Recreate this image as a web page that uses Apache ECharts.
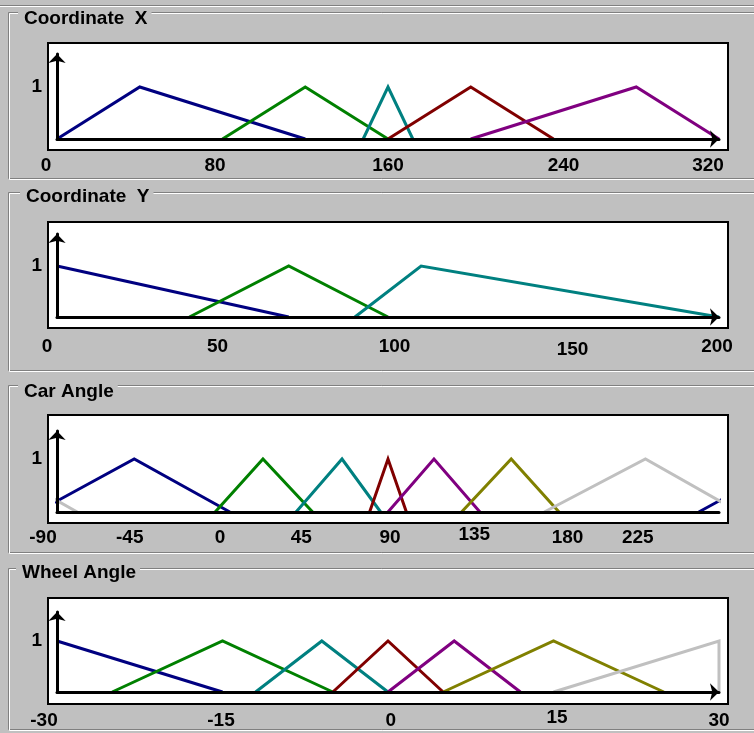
<!DOCTYPE html>
<html><head><meta charset="utf-8">
<script src="https://cdn.jsdelivr.net/npm/echarts@6/dist/echarts.min.js"></script>
<style>html,body{margin:0;padding:0;background:#c0c0c0}#c{width:754px;height:733px}</style>
</head><body><div id="c"></div><script>
// ---------------- data ----------------
const panelTitles = ['Coordinate  X', 'Coordinate  Y', 'Car Angle', 'Wheel Angle'];

const coordXRange = [0, 320];      const coordXStep = 80;
const coordYRange = [0, 200];      const coordYStep = 50;
const carAngleRange = [-90, 270];  const carAngleStep = 45;
const wheelAngleRange = [-30, 30]; const wheelAngleStep = 15;

const coordXTicks = [0, 80, 160, 240, 320];
const coordYTicks = [0, 50, 100, 150, 200];
const carAngleTicks = [-90, -45, 0, 45, 90, 135, 180, 225];
const wheelAngleTicks = [-30, -15, 0, 15, 30];

const coordX_blue   = [[0, 0], [40, 1], [120, 0]];
const coordX_green  = [[80, 0], [120, 1], [160, 0]];
const coordX_teal   = [[148, 0], [160, 1], [172, 0]];
const coordX_maroon = [[160, 0], [200, 1], [240, 0]];
const coordX_purple = [[200, 0], [280, 1], [320, 0]];

const coordY_blue  = [[0, 1], [70, 0]];
const coordY_green = [[40, 0], [70, 1], [100, 0]];
const coordY_teal  = [[90, 0], [110, 1], [200, 0]];

const car_blue     = [[-101, 0], [-48, 1], [4, 0]];
const car_blueWrap = [[259, 0], [312, 1], [364, 0]];
const car_green    = [[-4, 0], [22, 1], [49, 0]];
const car_teal     = [[40, 0], [65, 1], [86, 0]];
const car_maroon   = [[80, 0], [90, 1], [100, 0]];
const car_purple   = [[90, 0], [115, 1], [140, 0]];
const car_olive    = [[130, 0], [157, 1], [183, 0]];
const car_gray     = [[175, 0], [230, 1], [281, 0]];
const car_grayWrap = [[-185, 0], [-130, 1], [-79, 0]];

const wheel_blue   = [[-30, 1], [-15, 0]];
const wheel_green  = [[-25, 0], [-15, 1], [-5, 0]];
const wheel_teal   = [[-12, 0], [-6, 1], [0, 0]];
const wheel_maroon = [[-5, 0], [0, 1], [5, 0]];
const wheel_purple = [[0, 0], [6, 1], [12, 0]];
const wheel_olive  = [[5, 0], [15, 1], [25, 0]];
const wheel_gray   = [[15, 0], [30, 1], [30, 0]];

// ---------------- styles / layout ----------------
const COL = {blue:'#000080', green:'#008000', teal:'#008080', maroon:'#800000', purple:'#800080', olive:'#808000', gray:'#c0c0c0'};
const FONT = "'Liberation Sans', Arial, sans-serif";

const PANELS = [
  {title: panelTitles[0], titleLeft: 18, titleTop: 9, box: [12, 178], plot: [42, 151],
   gridTop: 54, baseline: 139, unit: 52, xArrow: true, clip: false, margin: 17.5,
   range: coordXRange, step: coordXStep, ticks: coordXTicks,
   dx: [-11, -7.5, 0, 10, -11], dy: [0, 0, 0, 0, 0],
   series: [[coordX_blue, COL.blue], [coordX_green, COL.green], [coordX_teal, COL.teal], [coordX_maroon, COL.maroon], [coordX_purple, COL.purple]]},
  {title: panelTitles[1], titleLeft: 20, titleTop: 187, box: [192, 370], plot: [221, 329],
   gridTop: 234, baseline: 317, unit: 51, xArrow: true, clip: false, margin: 20.5,
   range: coordYRange, step: coordYStep, ticks: coordYTicks,
   dx: [-10, -5, 6.5, 19, -2], dy: [0, 0, 0, 3, 0],
   series: [[coordY_blue, COL.blue], [coordY_green, COL.green], [coordY_teal, COL.teal]]},
  {title: panelTitles[2], titleLeft: 18, titleTop: 382.5, box: [385, 552], plot: [414, 524],
   gridTop: 431, baseline: 512, unit: 53, xArrow: false, clip: true, margin: 13.5,
   range: carAngleRange, step: carAngleStep, ticks: carAngleTicks,
   dx: [-14, -10, -2.5, -4, 2, 3.5, 14, 1.5], dy: [3, 3, 3, 3, 3, 0, 3, 3],
   series: [[car_blue, COL.blue], [car_blueWrap, COL.blue], [car_green, COL.green], [car_teal, COL.teal], [car_maroon, COL.maroon],
            [car_purple, COL.purple], [car_olive, COL.olive], [car_gray, COL.gray], [car_grayWrap, COL.gray]]},
  {title: panelTitles[3], titleLeft: 16, titleTop: 563.5, box: [568, 729], plot: [597, 705],
   gridTop: 612, baseline: 692, unit: 51, xArrow: true, clip: false, margin: 16.5,
   range: wheelAngleRange, step: wheelAngleStep, ticks: wheelAngleTicks,
   dx: [-13, -1.5, 2.7, 3.5, 0], dy: [3, 3, 3, 0, 3],
   series: [[wheel_blue, COL.blue], [wheel_green, COL.green], [wheel_teal, COL.teal], [wheel_maroon, COL.maroon],
            [wheel_purple, COL.purple], [wheel_olive, COL.olive], [wheel_gray, COL.gray]]}
];

const labelBase = {fontFamily: FONT, fontSize: 19, fontWeight: 'bold', color: '#000'};

function tickLabel(ticks, dx, dy) {
  const rich = {};
  ticks.forEach((t, i) => {
    const sx = dx[i] || 0, sy = dy[i] || 0;
    rich['t' + i] = Object.assign({}, labelBase, {padding: [sy, sx < 0 ? -2 * sx : 0, 0, sx > 0 ? 2 * sx : 0]});
  });
  return {
    formatter: v => { const i = ticks.indexOf(v); return i < 0 ? '' : '{t' + i + '|' + v + '}'; },
    rich
  };
}

const graphics = [
  {type: 'line', shape: {x1: 0, y1: 5.5, x2: 754, y2: 5.5}, style: {stroke: '#808080', lineWidth: 1}},
  {type: 'line', shape: {x1: 0, y1: 6.5, x2: 754, y2: 6.5}, style: {stroke: '#ffffff', lineWidth: 1}}
];
PANELS.forEach(p => {
  const [t, b] = p.box;
  graphics.push({type: 'rect', shape: {x: 8.5, y: t + 0.5, width: 800, height: b - t}, style: {fill: 'none', stroke: '#808080', lineWidth: 1}});
  graphics.push({type: 'rect', shape: {x: 9.5, y: t + 1.5, width: 800, height: b - t}, style: {fill: 'none', stroke: '#ffffff', lineWidth: 1}});
  graphics.push({type: 'rect', shape: {x: 48, y: p.plot[0] + 1, width: 680, height: p.plot[1] - p.plot[0] - 2}, style: {fill: '#ffffff', stroke: '#000000', lineWidth: 2}});
});

const option = {
  backgroundColor: '#c0c0c0',
  animation: false,
  graphic: graphics,
  title: PANELS.map(p => ({
    text: p.title, left: p.titleLeft, top: p.titleTop, padding: [0, 4, 0, 6], backgroundColor: '#c0c0c0',
    textStyle: {fontFamily: FONT, fontSize: 19, fontWeight: 'bold', color: '#000'}
  })),
  grid: PANELS.map(p => ({left: 57, right: 35, top: p.gridTop, height: p.baseline - p.gridTop})),
  xAxis: PANELS.map((p, i) => ({
    type: 'value', gridIndex: i, min: p.range[0], max: p.range[1], interval: p.step, z: 5,
    axisLine: {onZero: false, lineStyle: {color: '#000', width: 3}, symbol: p.xArrow ? ['none', 'arrow'] : 'none', symbolSize: [13, 9]},
    axisTick: {show: false}, splitLine: {show: false},
    axisLabel: Object.assign({margin: p.margin, showMinLabel: true, showMaxLabel: true}, tickLabel(p.ticks, p.dx, p.dy))
  })),
  yAxis: PANELS.map((p, i) => ({
    type: 'value', gridIndex: i, min: 0, max: (p.baseline - p.gridTop) / p.unit, interval: 1, z: 5,
    axisLine: {show: true, onZero: false, lineStyle: {color: '#000', width: 3}, symbol: ['none', 'arrow'], symbolSize: [13, 9]},
    axisTick: {show: false}, splitLine: {show: false},
    axisLabel: Object.assign({margin: 15, formatter: v => (v === 1 ? '1' : '')}, labelBase)
  })),
  series: PANELS.flatMap((p, i) => p.series.map(([data, color]) => ({
    type: 'line', xAxisIndex: i, yAxisIndex: i, data, symbol: 'none', showSymbol: false, clip: p.clip, silent: true,
    lineStyle: {color, width: 3, join: 'miter', cap: 'butt'}
  })))
};

const chart = echarts.init(document.getElementById('c'), null, {renderer: 'canvas'});
chart.setOption(option);
</script></body></html>
